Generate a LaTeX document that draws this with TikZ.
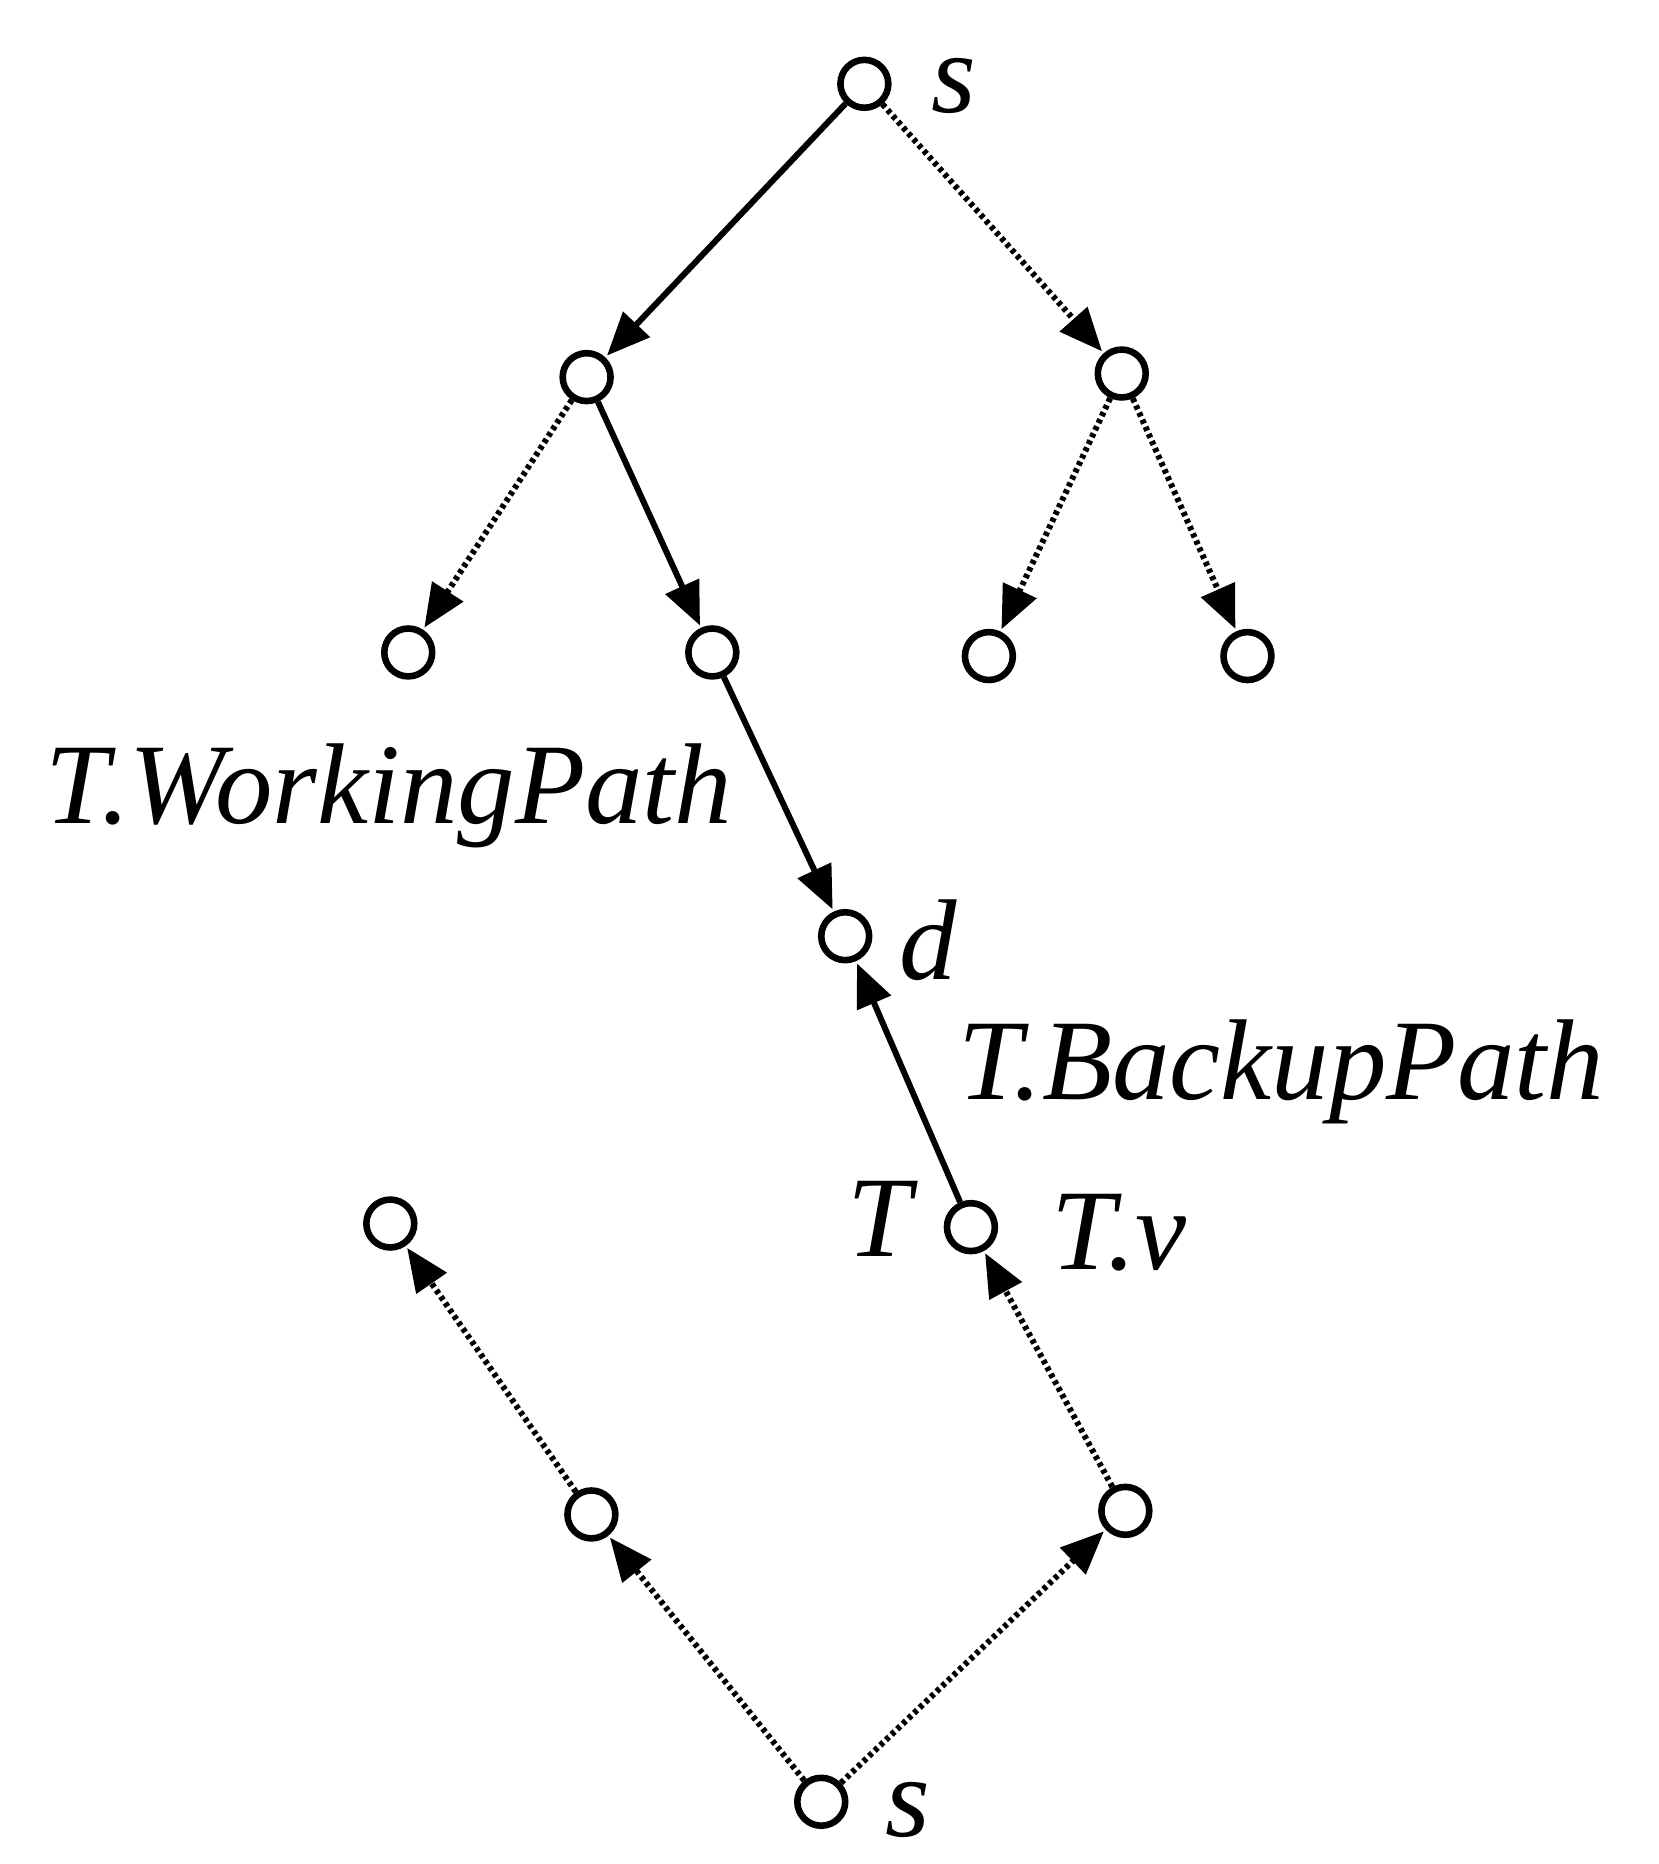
\documentclass[tikz,border=0pt]{standalone}
\usepackage{fontspec}
\setmainfont{Liberation Serif}
\usetikzlibrary{arrows.meta}
\begin{document}
\begin{tikzpicture}[x=1pt,y=-1pt,
  vtx/.style={circle,draw,line width=5.5pt,minimum size=40pt,inner sep=0pt},
  lbl/.style={font=\fontsize{96}{100}\selectfont\itshape,inner sep=0pt},
  arr/.style={line width=5pt,-{Triangle[length=36pt,width=30pt]},shorten >=2pt},
  sol/.style={arr},
  dot/.style={arr,dash pattern=on 3.5pt off 3pt}]
\useasboundingbox (0,0) rectangle (1385,1557);
\node[vtx] (s) at (722,70) {};
\node[vtx] (a) at (490,315) {};
\node[vtx] (b) at (937,312) {};
\node[vtx] (c1) at (341,545) {};
\node[vtx] (c2) at (595,545) {};
\node[vtx] (c3) at (826,548) {};
\node[vtx] (c4) at (1042,548) {};
\node[vtx] (d) at (706,782) {};
\node[vtx] (tv) at (811,1025) {};
\node[vtx] (l1) at (326,1022) {};
\node[vtx] (l2) at (494,1265) {};
\node[vtx] (r2) at (940,1262) {};
\node[vtx] (sb) at (686,1505) {};
\node[lbl] (ls) at (797,72) {s};
\node[lbl] (ld) at (775,785) {d};
\node[lbl] (lw) at (325,665) {T.WorkingPath};
\node[lbl] (lb) at (1070,895) {T.BackupPath};
\node[lbl] (lt) at (735,1018) {T};
\node[lbl] (ltv) at (935,1030) {T.v};
\node[lbl] (lsb) at (758,1512) {s};
\draw[sol] (s) -- (a);
\draw[dot] (s) -- (b);
\draw[dot] (a) -- (c1);
\draw[sol] (a) -- (c2);
\draw[dot] (b) -- (c3);
\draw[dot] (b) -- (c4);
\draw[sol] (c2) -- (d);
\draw[sol] (tv) -- (d);
\draw[dot] (r2) -- (tv);
\draw[dot] (l2) -- (l1);
\draw[dot] (sb) -- (l2);
\draw[dot] (sb) -- (r2);
\end{tikzpicture}
\end{document}
